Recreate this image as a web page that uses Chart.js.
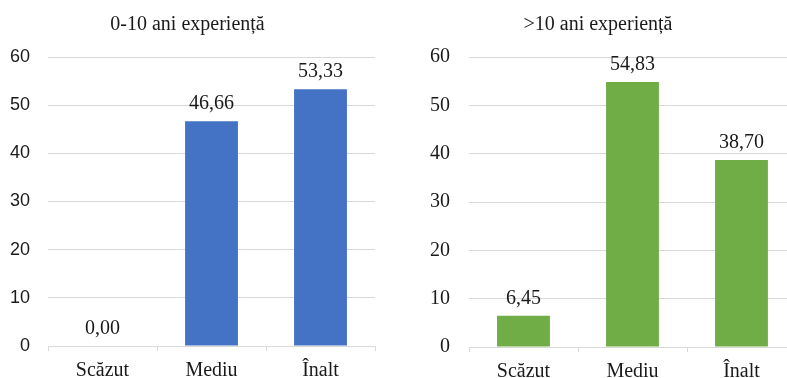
<!DOCTYPE html>
<html>
<head>
<meta charset="utf-8">
<script src="https://cdn.jsdelivr.net/npm/chart.js@4/dist/chart.umd.min.js"></script>
<style>
  html, body { margin: 0; padding: 0; background: #fff; overflow: hidden; width: 787px; height: 378px; }
  canvas { position: absolute; top: 0; }
  #juniorChart { left: 0; }
  #seniorChart { left: 400px; }
</style>
</head>
<body>
<canvas id="juniorChart" width="392" height="378"></canvas>
<canvas id="seniorChart" width="434" height="378"></canvas>
<script>
// Categories and percentages for the two experience groups
const categories = ['Scăzut', 'Mediu', 'Înalt'];
const juniorValues = [0.00, 46.66, 53.33];
const seniorValues = [6.45, 54.83, 38.70];
const juniorTitle = '0-10 ani experiență';
const seniorTitle = '>10 ani experiență';
const yMin = 0;
const yMax = 60;
const yStep = 10;

const SERIF = '"Liberation Serif", "Times New Roman", serif';
const SANS = '"Liberation Sans", Arial, sans-serif';
const TEXT = '#1a1a1a';
const GRID = '#d9d9d9';

// Writes each bar's value (comma decimal) above it
const valueLabels = {
  id: 'valueLabels',
  afterDatasetsDraw(chart) {
    const ctx = chart.ctx;
    const meta = chart.getDatasetMeta(0);
    const data = chart.data.datasets[0].data;
    ctx.save();
    ctx.font = '20px ' + SERIF;
    ctx.fillStyle = TEXT;
    ctx.textAlign = 'center';
    ctx.textBaseline = 'alphabetic';
    meta.data.forEach((bar, i) => {
      const txt = data[i].toFixed(2).replace('.', ',');
      ctx.fillText(txt, bar.x, bar.y - 12);
    });
    ctx.restore();
  }
};

function makeChart(id, title, values, color, cfg) {
  return new Chart(document.getElementById(id), {
    type: 'bar',
    data: {
      labels: categories,
      datasets: [{
        data: values,
        backgroundColor: color,
        borderWidth: 0,
        barPercentage: 0.485,
        categoryPercentage: 1.0
      }]
    },
    options: {
      responsive: false,
      animation: false,
      devicePixelRatio: 1,
      layout: { padding: { left: 0, right: cfg.rightPad, top: 0, bottom: 0 } },
      plugins: {
        legend: { display: false },
        tooltip: { enabled: false },
        title: {
          display: true,
          text: title,
          color: TEXT,
          font: { family: SERIF, size: 20, weight: 'normal' },
          padding: { top: 13, bottom: 20 }
        }
      },
      scales: {
        x: {
          grid: {
            display: true,
            drawOnChartArea: false,
            drawTicks: true,
            tickLength: 5,
            color: GRID,
            offset: true
          },
          border: { display: true, color: GRID, width: 1 },
          ticks: {
            color: TEXT,
            padding: 8,
            font: { family: SERIF, size: 20 }
          },
          afterFit(scale) { scale.height = cfg.xHeight; }
        },
        y: {
          min: yMin,
          max: yMax,
          grid: { color: GRID, drawTicks: false, lineWidth: 1 },
          border: { display: false },
          ticks: {
            stepSize: yStep,
            color: TEXT,
            padding: cfg.yPad,
            font: { family: cfg.yFont, size: cfg.yFontSize }
          },
          afterFit(scale) { scale.width = cfg.yWidth; }
        }
      }
    },
    plugins: [valueLabels]
  });
}

makeChart('juniorChart', juniorTitle, juniorValues, '#4472C4',
  { rightPad: 17, yWidth: 48, yPad: 18, yFont: SANS, yFontSize: 18, xHeight: 32 });
makeChart('seniorChart', seniorTitle, seniorValues, '#70AD47',
  { rightPad: 38, yWidth: 69, yPad: 19, yFont: SERIF, yFontSize: 20, xHeight: 31 });
</script>
</body>
</html>
